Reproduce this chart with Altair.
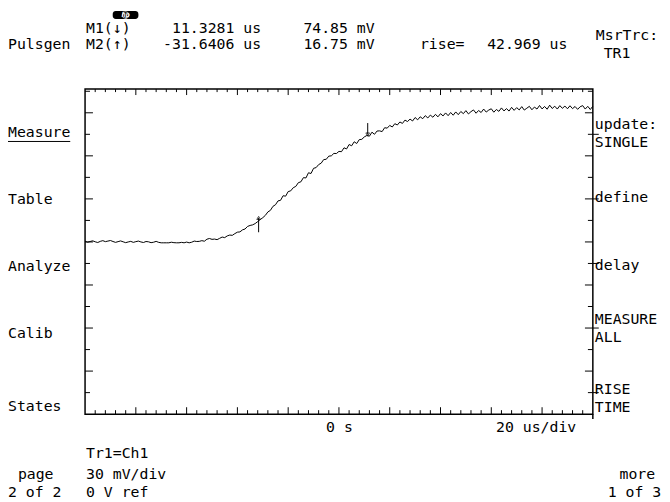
import altair as alt
import pandas as pd

# ---------------- data ----------------
time_us = list(range(-100, 101))  # sample times, 1 us apart
trace_mv = [
    # -100 .. -56 (flat baseline)
    0.5, -0.2, 0.3, 0.8, 0.1, -0.4, 0.4, 0.9, 0.2, 0.6,
    1.0, 0.3, -0.3, 0.2, 0.7, 0.1, -0.5, 0.0, 0.4, -0.3,
    0.2, 0.6, 0.0, -0.4, 0.3, 0.1, -0.5, -0.2, 0.4, -0.3,
    -0.6, -0.6, -0.6, -0.6, -0.2, -0.5, -0.6, -0.6, -0.3, -0.6,
    -0.1, -0.6, -0.2, 0.6, 0.3,
    # -55 .. -31
    0.4, 0.9, 0.5, 1.9, 2.4, 1.8, 2.0, 1.6, 2.5, 3.4,
    3.0, 4.2, 4.8, 4.6, 5.8, 6.8, 7.0, 8.4, 9.0, 10.8,
    11.5, 11.9, 12.8, 14.2, 15.6,
    # -30 .. 19
    16.9, 18.5, 20.9, 22.0, 24.8, 25.9, 28.6, 29.0, 32.2, 31.9,
    35.1, 35.6, 37.8, 38.7, 41.3, 41.9, 44.8, 44.6, 48.2, 47.7,
    51.3, 51.8, 53.9, 54.9, 57.4, 57.6, 59.8, 60.0, 61.7, 61.6,
    63.1, 62.9, 65.6, 64.8, 67.9, 67.0, 69.8, 68.6, 71.3, 71.5,
    73.2, 74.2, 73.7, 76.5, 75.0, 77.3, 77.4, 76.9, 79.6, 79.3,
    # 20 .. 100
    81.2, 80.1, 82.4, 81.5, 83.6, 82.6, 84.9, 83.9, 85.6, 84.3,
    86.7, 85.1, 87.2, 85.9, 88.0, 86.4, 88.4, 86.9, 88.9, 87.2,
    89.4, 87.8, 89.9, 88.0, 90.2, 88.3, 90.6, 88.7, 90.9, 89.4,
    91.5, 89.2, 90.8, 92.0, 89.7, 91.6, 90.2, 92.6, 90.5, 91.9,
    92.8, 90.4, 92.3, 91.0, 93.4, 91.3, 92.9, 91.2, 93.8, 91.7,
    93.6, 92.0, 94.3, 91.9, 93.2, 94.5, 92.1, 94.0, 92.6, 95.1,
    92.7, 94.4, 92.5, 95.3, 93.0, 94.6, 92.6, 95.0, 93.1, 94.7,
    92.8, 94.9, 92.9, 94.4, 92.4, 94.2, 95.0, 92.6, 94.5, 92.3,
    94.6,
]

x_domain = [-100, 100]        # 20 us/div, 10 divisions
y_domain = [-120, 106.5]      # 30 mV/div

minor_x = [-96, -92, -88, -84, -76, -72, -68, -64, -56, -52, -48, -44,
           -36, -32, -28, -24, -16, -12, -8, -4, 4, 8, 12, 16, 24, 28,
           32, 36, 44, 48, 52, 56, 64, 68, 72, 76, 84, 88, 92, 96]
major_x = [-80, -60, -40, -20, 0, 20, 40, 60, 80]
minor_y = [105, 75, 45, 15, -15, -45, -75, -105]
major_y = [90, 60, 30, 0, -30, -60, -90]
softkey_y = [75, 30, -15, -60, -105]

marker_names = ["M1", "M2"]
marker_t = [11.3281, -31.6406]
marker_mv = [74.85, 16.75]

# ---------------- layout ----------------
W, H = 514, 329
OX, OY = 86, 87  # page position of plot origin
FONT = "DejaVu Sans Mono"
FS = 15

xs = alt.Scale(domain=x_domain, nice=False, zero=False)
ys = alt.Scale(domain=y_domain, nice=False, zero=False)

layers = []

trace_df = pd.DataFrame({"t": time_us, "v": trace_mv})
layers.append(
    alt.Chart(trace_df).mark_line(color="black", strokeWidth=1).encode(
        x=alt.X("t:Q", scale=xs, axis=None),
        y=alt.Y("v:Q", scale=ys, axis=None),
    )
)


def xticks(vals, y0, y1):
    return alt.Chart(pd.DataFrame({"t": vals})).mark_rule(
        color="black", strokeWidth=1).encode(
        x=alt.X("t:Q", scale=xs, axis=None),
        y=alt.value(y0), y2=alt.value(y1))


def yticks(vals, x0, x1):
    return alt.Chart(pd.DataFrame({"v": vals})).mark_rule(
        color="black", strokeWidth=1).encode(
        y=alt.Y("v:Q", scale=ys, axis=None),
        x=alt.value(x0), x2=alt.value(x1))


layers += [
    xticks(minor_x, 0, 3), xticks(major_x, 0, 6),
    xticks(minor_x, H, H - 4), xticks(major_x, H, H - 7),
    yticks(minor_y, 0, 5), yticks(major_y, 0, 8),
    yticks(minor_y, W, W - 5), yticks(major_y, W, W - 8),
    yticks(softkey_y, W, W + 6),
]

# right border extension below the frame
layers.append(alt.Chart(pd.DataFrame({"a": [0]})).mark_rule(
    color="black", strokeWidth=1.5).encode(
    x=alt.value(W), y=alt.value(H), y2=alt.value(H + 5)))

# markers
mk = pd.DataFrame({"name": marker_names, "t": marker_t, "v": marker_mv})
mk["top"] = [marker_mv[0] + 8, marker_mv[1]]
mk["bot"] = [marker_mv[0], marker_mv[1] - 10]
layers.append(alt.Chart(mk).mark_rule(color="black", strokeWidth=1).encode(
    x=alt.X("t:Q", scale=xs, axis=None),
    y=alt.Y("top:Q", scale=ys, axis=None), y2="bot:Q"))
layers.append(alt.Chart(mk[mk.name == "M1"]).mark_point(
    shape="triangle-down", color="black", filled=False, size=14, strokeWidth=1).encode(
    x=alt.X("t:Q", scale=xs, axis=None),
    y=alt.Y("v:Q", scale=ys, axis=None)))
layers.append(alt.Chart(mk[mk.name == "M2"]).mark_point(
    shape="triangle-up", color="black", filled=False, size=14, strokeWidth=1).encode(
    x=alt.X("t:Q", scale=xs, axis=None),
    y=alt.Y("v:Q", scale=ys, axis=None)))


def txt(s, px, py, size=FS, color="black", italic=False, bold=False,
        align="left", baseline="alphabetic"):
    kw = {}
    if italic:
        kw["fontStyle"] = "italic"
    if bold:
        kw["fontWeight"] = "bold"
    return alt.Chart(pd.DataFrame({"label": [s]})).mark_text(
        font=FONT, fontSize=size, color=color, align=align,
        baseline=baseline, **kw).encode(
        text="label:N", x=alt.value(px - OX), y=alt.value(py - OY))


# hp logo
layers.append(alt.Chart(pd.DataFrame({"a": [0]})).mark_rect(
    color="black", cornerRadius=3).encode(
    x=alt.value(114 - OX), x2=alt.value(140 - OX),
    y=alt.value(8 - OY), y2=alt.value(16 - OY)))
layers.append(alt.Chart(pd.DataFrame({"a": [0]})).mark_point(
    shape="circle", color="white", size=45, strokeWidth=1).encode(
    x=alt.value(127 - OX), y=alt.value(12 - OY)))
layers.append(txt("hp", 127, 12, size=7, color="white", italic=True, bold=True,
                  align="center", baseline="middle"))

labels = [
    ("M1(↓)", 87, 30), ("11.3281 us", 174, 30), ("74.85 mV", 307, 30),
    ("Pulsgen", 8, 46), ("M2(↑)", 87, 46), ("-31.6406 us", 165, 46),
    ("16.75 mV", 307, 46), ("rise=", 425, 46), ("42.969 us", 493, 46),
    ("MsrTrc:", 603, 37), ("TR1", 611, 55),
    ("Measure", 8, 135), ("Table", 8, 203), ("Analyze", 8, 271),
    ("Calib", 8, 339), ("States", 8, 413),
    ("update:", 602, 127), ("SINGLE", 602, 146), ("define", 602, 201),
    ("delay", 602, 270), ("MEASURE", 602, 325), ("ALL", 602, 343),
    ("RISE", 602, 396), ("TIME", 602, 414),
    ("0 s", 330, 434), ("20 us/div", 502, 434),
    ("Tr1=Ch1", 87, 460), ("page", 18, 482), ("30 mV/div", 87, 482),
    ("2 of 2", 8, 500), ("0 V ref", 87, 500),
    ("more", 627, 482), ("1 of 3", 615, 500),
]
for s, px, py in labels:
    layers.append(txt(s, px, py))

# underline under "Measure"
layers.append(alt.Chart(pd.DataFrame({"a": [0]})).mark_rule(
    color="black", strokeWidth=1).encode(
    x=alt.value(8 - OX), x2=alt.value(71 - OX), y=alt.value(140 - OY)))

chart = alt.layer(*layers).properties(
    width=W, height=H,
    padding={"left": OX - 8, "top": OY - 8, "right": 670 - OX - W, "bottom": 100},
    autosize=alt.AutoSizeParams(type="none"),
    background="white",
).configure_view(stroke="black", strokeWidth=1.5)

chart.save("out.html", embed_options={"renderer": "svg", "actions": False})
